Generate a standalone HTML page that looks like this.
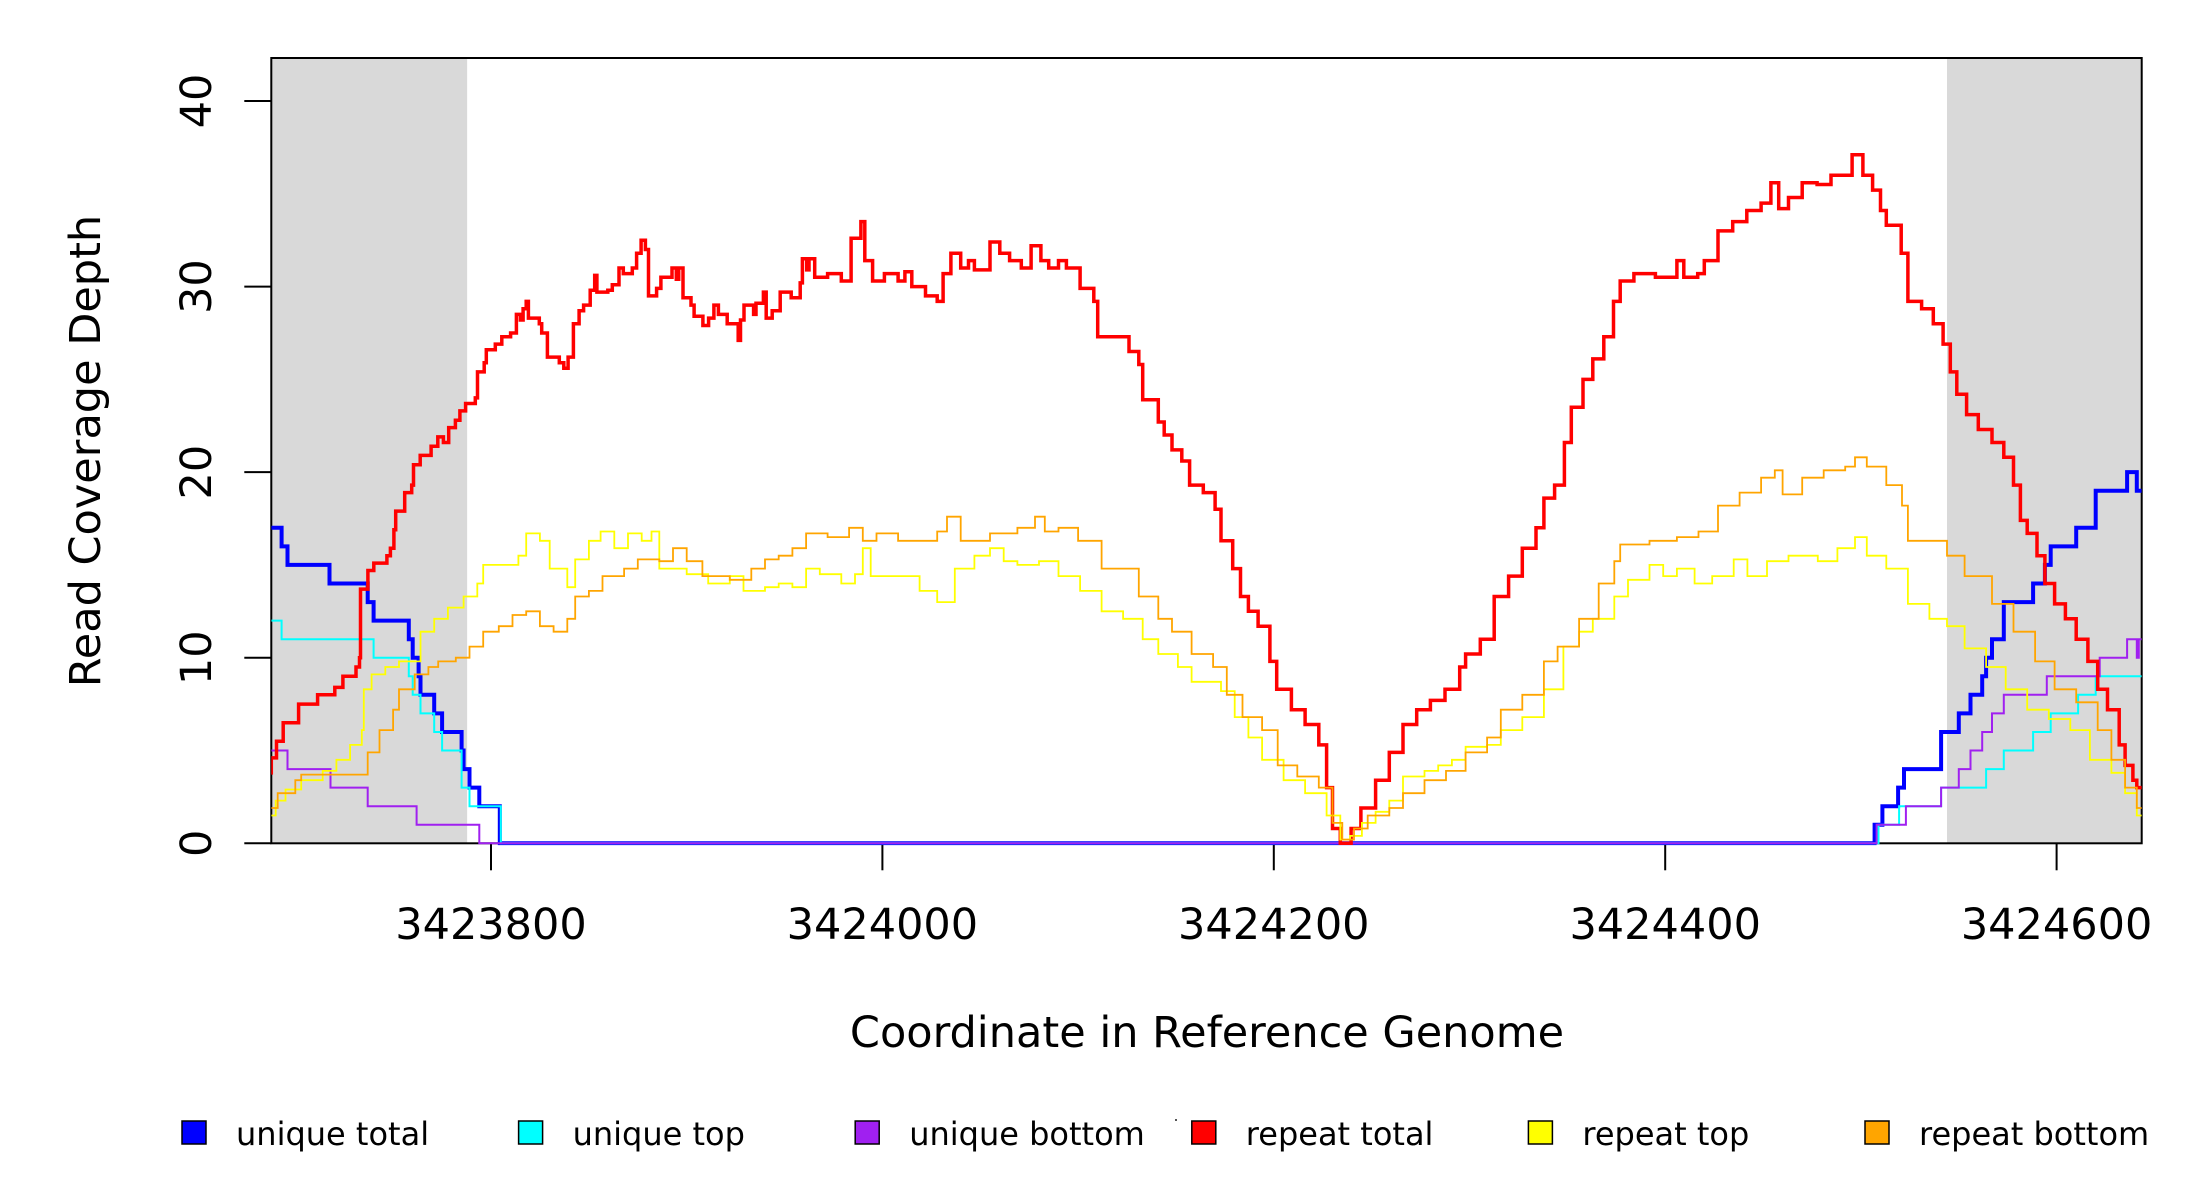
<!DOCTYPE html>
<html><head><meta charset="utf-8"><style>
html,body{margin:0;padding:0;background:#fff;}
svg{display:block;font-family:"DejaVu Sans","Liberation Sans",sans-serif;}
</style></head><body>
<svg id="chart" width="2200" height="1200" viewBox="0 0 2200 1200" xmlns="http://www.w3.org/2000/svg"></svg>
<script>
// positions: genome coordinate minus 3423800
const BASE = 3423800;
const xTicks = [3423800, 3424000, 3424200, 3424400, 3424600];
const yTicks = [0, 10, 20, 30, 40];
const shadeRegions = [[-112.3, -12.2], [744, 843.5]];

const uniqueTotalPos = [-113,-107,-104,-82.5,-63,-60,-42,-40,-37,-36,-29,-25,-15,-14,-11,-6,4.5,707,711,719,722,741,750,756,762,764,767,773,788,794,797,810,820,836,841];
const uniqueTotalVal = [17,16,15,14,13,12,11,10,9,8,7,6,5,4,3,2,0,1,2,3,4,6,7,8,9,10,11,13,14,15,16,17,19,20,19];

const uniqueTopPos = [-113,-107,-60,-42,-40,-36,-29,-25,-15,-11,5,709,719.5,741,764,773,788,797,811,820];
const uniqueTopVal = [12,11,10,9,8,7,6,5,3,2,0,1,2,3,4,5,6,7,8,9];

const uniqueBottomPos = [-113,-104,-82,-63,-38,-6,708,723,741,750,756,762,767,773,795,822,836,841,842];
const uniqueBottomVal = [5,4,3,2,1,0,1,2,3,4,5,6,7,8,9,10,11,10,11];

const repeatTotalPos = [-113.7,-112.3,-109.6,-106.2,-98.3,-88.6,-79.8,-75.7,-69,-67.2,-66.7,-62.9,-59.9,-53.2,-51.4,-49.6,-48.7,-44.1,-40.5,-39.6,-36.2,-30.6,-27.2,-24.3,-21.6,-18.2,-15.9,-13,-8,-6.9,-3.5,-2.4,2.2,5.5,10,13,15,16.4,18,19.1,24.7,25.9,28.8,34.9,37.2,39.4,42.1,45,47.3,50.7,53,54.1,59.7,62,65.4,67.6,72.2,74.4,76.7,78.9,80.5,84.6,86.8,92.5,94.7,95.9,98.1,102.2,103.8,108.3,111.2,113.9,116.2,120.7,126.3,127.5,129.3,134.2,135.4,139.2,140.6,143.7,147.8,153.4,158,159.1,161.3,162.5,165.4,172,179,184,189,191,195,201,208,211.5,215,222,228,231,235,240,244,247,255,260,265,271,276,281,285,290,294,301,308,310,326,331,333,341,344,348,353,357,364,370,373,379,383,387,392,398,401.5,409,416,423,427,430,434,439.5,444.5,452,459,466,473,480,487.5,495,498,505.5,512.6,520,527,534,538,543.5,548.5,552,558,563,568.6,573.6,577,584,595,606,609.5,616.6,620,627,634.5,641.7,649,654,658,663,670,677.6,684.7,692,695.5,701,706,710,713,720.6,724,731,737,742,745.7,749,754,760,767,773,778,781.5,785,790,794,799,804.5,810,816,821,826,832,835,839,841];
const repeatTotalVal = [3.7,4.6,5.5,6.5,7.5,8,8.4,9,9.5,10,13.7,14.7,15.1,15.5,15.9,16.9,17.9,18.9,19.3,20.4,20.9,21.4,21.9,21.6,22.4,22.8,23.3,23.7,24,25.4,25.9,26.6,26.9,27.3,27.5,28.5,28.2,28.8,29.2,28.3,28,27.5,26.2,25.9,25.6,26.2,28,28.7,29,29.8,30.6,29.7,29.8,30.1,31,30.7,31,31.8,32.5,32,29.5,29.9,30.5,31,30.4,31,29.4,29,28.4,27.9,28.3,29,28.5,28,27.1,28.2,29,28.5,29.1,29.7,28.3,28.7,29.7,29.4,30.2,31.5,30.9,31.5,30.5,30.7,30.3,32.6,33.5,31.4,30.3,30.7,30.3,30.8,30,29.5,29.2,30.7,31.8,31,31.4,30.9,32.4,31.8,31.4,31,32.2,31.4,31,31.4,31,29.9,29.2,27.3,26.5,25.8,23.9,22.7,22,21.2,20.6,19.3,18.9,18,16.3,14.8,13.3,12.5,11.7,9.8,8.3,7.2,6.4,5.3,3,0.8,0,0.8,1.9,3.4,4.9,6.4,7.2,7.7,8.3,9.5,10.2,11,13.3,14.4,15.9,17,18.6,19.3,21.6,23.5,25,26.1,27.3,29.2,30.3,30.7,30.5,31.4,30.5,30.7,31.4,33,33.5,34.1,34.5,35.6,34.2,34.8,35.6,35.5,36,36,37.1,36,35.2,34.1,33.3,31.8,29.2,28.8,28,26.9,25.4,24.2,23.1,22.3,21.6,20.8,19.3,17.4,16.7,15.5,14,12.9,12.1,11,9.8,8.3,7.2,5.3,4.2,3.4,3];

const repeatTopPos = [-113,-110,-105,-97,-86,-79,-72,-66,-65,-61,-54,-47,-36,-29,-22,-14,-7,-4,14,18,25,30,39,43,50,56,63,70,77,82,86,100,111,122,129,140,147,154,161,168,179,186,190,194,208,219,228,237,247,255,262,269,280,290,301,312,323,333,341,351,358,366,373,380,387,394,405,416,427,434,439,445,452,459,466,477,484,491,498,509,516,527,538,548,556,563,574,581,592,599,606,615,624,635,642,652,663,678,688,697,703,713,724,735,744,753,764,774,785,796,807,817,828,835,841];
const repeatTopVal = [1.5,2.3,2.9,3.4,3.9,4.5,5.3,6.1,8.3,9.1,9.5,9.8,11.4,12.1,12.7,13.3,14,15,15.5,16.7,16.3,14.8,13.8,15.3,16.3,16.8,15.9,16.7,16.3,16.8,14.8,14.5,14,14.4,13.6,13.8,14,13.8,14.8,14.5,14,14.5,15.9,14.4,14.4,13.6,13,14.8,15.5,15.9,15.2,15,15.2,14.4,13.6,12.5,12.1,11,10.2,9.5,8.7,8.7,8.2,6.8,5.7,4.5,3.4,2.7,1.5,0.2,0.4,1.1,1.7,2.3,3.6,3.9,4.2,4.5,5.2,5.3,6.1,6.8,8.3,10.6,11.4,12.1,13.3,14.2,15,14.4,14.8,14,14.4,15.3,14.4,15.2,15.5,15.2,15.9,16.5,15.5,14.8,12.9,12.1,11.7,10.5,9.5,8.3,7.2,6.7,6.1,4.5,3.8,2.7,1.5];

const repeatBottomPos = [-113,-109,-100,-97,-66,-63,-57,-50,-47,-39,-32,-27,-18,-11,-4,4,11,18,25,32,39,43,50,57,68,75,86,93,100,108,122,133,140,147,154,161,172,183,190,197,208,222,228,233,240,251,255,262,269,278,283,290,300,312,323,331,341,348,358,369,376,384,394,402,412,423,430,435,441,448,459,466,477,488,498,509,516,527,538,545,556,566,574,577,592,606,617,627,638,649,656,660,670,681,692,697,703,713,721,724,739,744,753,767,778,789,799,810,821,828,835,841];
const repeatBottomVal = [1.9,2.7,3.4,3.7,3.7,4.9,6.1,7.2,8.3,9.1,9.5,9.8,10,10.6,11.4,11.7,12.3,12.5,11.7,11.4,12.1,13.3,13.6,14.4,14.8,15.3,15.2,15.9,15.2,14.4,14.2,14.8,15.3,15.5,15.9,16.7,16.5,17,16.3,16.7,16.3,16.3,16.8,17.6,16.3,16.3,16.7,16.7,17,17.6,16.8,17,16.3,14.8,14.8,13.3,12.1,11.4,10.2,9.5,8,6.8,6.1,4.2,3.6,3,1.1,0.2,0.8,1.5,1.9,2.7,3.4,3.9,4.9,5.7,7.2,8,9.8,10.6,12.1,14,15.2,16.1,16.3,16.5,16.8,18.2,18.9,19.7,20.1,18.8,19.7,20.1,20.3,20.8,20.3,19.3,18.2,16.3,16.3,15.5,14.4,12.9,11.4,9.8,8.3,7.6,6.1,4.5,3,1.9];

const legendLabels = ["unique total","unique top","unique bottom","repeat total","repeat top","repeat bottom"];
const legendColors = ["#0000ff","#00ffff","#a020f0","#ff0000","#ffff00","#ffa500"];

const NS = "http://www.w3.org/2000/svg";
const svg = document.getElementById("chart");
const L = 271.3, R = 2141.7, T = 58, B = 843.3;
const X0 = 491, XS = 1.957;
const YS = (843.3 - 101) / 40;
function xPix(off) { return X0 + off * XS; }
function xPixAbs(c) { return xPix(c - BASE); }
function yPix(v) { return B - v * YS; }
function mk(tag, attrs, parent) {
  const e = document.createElementNS(NS, tag);
  for (const k in attrs) e.setAttribute(k, attrs[k]);
  (parent || svg).appendChild(e);
  return e;
}

shadeRegions.forEach((r, i) => {
  const x1 = Math.max(L, xPix(r[0])), x2 = Math.min(R, xPix(r[1]));
  const el = mk("rect", {x: x1, y: T, width: x2 - x1, height: B - T, fill: "#d9d9d9"});
  
  
});

// frame and axes first so series overlay them
const box = mk("rect", {x: L, y: T, width: R - L, height: B - T, fill: "none", stroke: "#000", "stroke-width": 2});



yTicks.forEach(v => {
  const y = yPix(v);
  const t = mk("line", {x1: L - 27, x2: L, y1: y, y2: y, stroke: "#000", "stroke-width": 2});
  
  
  const lb = mk("text", {x: 0, y: 0, transform: "translate(211," + y + ") rotate(-90)", "text-anchor": "middle", "font-size": 43, fill: "#000"});
  lb.textContent = v;
  
  
});
xTicks.forEach(c => {
  const x = xPixAbs(c);
  const t = mk("line", {x1: x, x2: x, y1: B, y2: B + 27, stroke: "#000", "stroke-width": 2});
  
  
  const lb = mk("text", {x: x, y: 939, "text-anchor": "middle", "font-size": 43, fill: "#000"});
  lb.textContent = c;
  
  
});

function stepPath(pos, val) {
  let d = "";
  for (let i = 0; i < pos.length; i++) {
    const x = Math.max(L, xPix(pos[i])), y = yPix(val[i]);
    if (i === 0) d += "M" + x.toFixed(1) + " " + y.toFixed(1);
    else d += "H" + x.toFixed(1) + "V" + y.toFixed(1);
  }
  d += "H" + R;
  return d;
}
const seriesDefs = [
  [uniqueTotalPos, uniqueTotalVal, "#0000ff", 4, "series-unique-total"],
  [uniqueTopPos, uniqueTopVal, "#00ffff", 2, "series-unique-top"],
  [uniqueBottomPos, uniqueBottomVal, "#a020f0", 2, "series-unique-bottom"],
  [repeatTotalPos, repeatTotalVal, "#ff0000", 3.5, "series-repeat-total"],
  [repeatTopPos, repeatTopVal, "#ffff00", 1.8, "series-repeat-top"],
  [repeatBottomPos, repeatBottomVal, "#ffa500", 1.8, "series-repeat-bottom"]
];
const clip = mk("clipPath", {id: "plotclip"}, mk("defs", {}));
mk("rect", {x: L, y: T - 2, width: R - L, height: B - T + 4}, clip);
seriesDefs.forEach(s => {
  const p = mk("path", {d: stepPath(s[0], s[1]), fill: "none", stroke: s[2], "stroke-width": s[3], "clip-path": "url(#plotclip)"});
  
  
});

const xt = mk("text", {x: 1207, y: 1047, "text-anchor": "middle", "font-size": 43, fill: "#000"});
xt.textContent = "Coordinate in Reference Genome";


const yt = mk("text", {x: 0, y: 0, transform: "translate(100,451) rotate(-90)", "text-anchor": "middle", "font-size": 43, fill: "#000"});
yt.textContent = "Read Coverage Depth";



legendLabels.forEach((lab, i) => {
  const cx = 194 + i * 336.6;
  const g = mk("g", {});
  
  
  mk("rect", {x: cx - 12, y: 1121, width: 24, height: 23, fill: legendColors[i], stroke: "#000", "stroke-width": 1.5}, g);
  const tx = mk("text", {x: cx + 42, y: 1145, "font-size": 32, fill: "#000"}, g);
  tx.textContent = lab;
});
mk("rect", {x: 1175, y: 1119, width: 2, height: 2, fill: "#555"});
</script>
</body></html>
